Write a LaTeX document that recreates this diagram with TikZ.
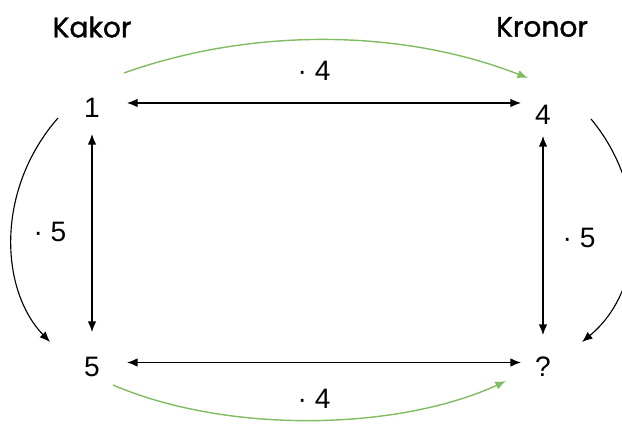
\documentclass[tikz,border=0pt]{standalone}
\usepackage{fontspec}
\setmainfont{Liberation Sans}
\newfontfamily\headfont{Poppins}[FakeBold=1.2]
\usetikzlibrary{arrows.meta,calc}
\definecolor{grn}{RGB}{128,188,98}
\tikzset{
  num/.style={inner sep=0pt,font=\fontsize{20}{24}\selectfont},
  head/.style={inner sep=0pt,font=\headfont\fontsize{20}{24}\selectfont},
  lbl/.style={inner sep=0pt,font=\fontsize{20}{24}\selectfont},
  dbl/.style={{Latex[length=7.5pt,width=6pt]}-{Latex[length=7.5pt,width=6pt]},line width=0.8pt},
  blk/.style={-{Latex[length=7.5pt,width=6pt]},line width=0.8pt},
  grnarr/.style={-{Latex[length=7.5pt,width=6pt]},line width=1pt,draw=grn}
}
\begin{document}
\begin{tikzpicture}[x=0.025cm,y=-0.025cm]
\useasboundingbox (0,0) rectangle (622,425);
\clip (0,0) rectangle (622,425);
\node[head] (kakor) at (92,27) {Kakor};
\node[head] (kronor) at (542,27) {Kronor};
\node[num] (n1) at (92,108) {1};
\node[num] (n4) at (543,115) {4};
\node[num] (n5) at (92,367) {5};
\node[num] (nq) at (543,367) {?};
\node[lbl] (ltop) at (314,71) {· 4};
\node[lbl] (lbot) at (314,399) {· 4};
\node[lbl] (lleft) at (50,232) {· 5};
\node[lbl] (lright) at (579,238) {· 5};
% straight double arrows
\draw[dbl] ($(n1)+(35,-5)$) -- ($(n4)+(-22,-12)$);
\draw[dbl] ($(n5)+(35,-4.5)$) -- ($(nq)+(-22,-4.5)$);
\draw[dbl] ($(n1)+(0,26)$) -- ($(n5)+(0,-35)$);
\draw[dbl] ($(n4)+(0,21)$) -- ($(nq)+(0,-32)$);
% green curves
\draw[grnarr] ($(n1)+(32,-35)$) .. controls (250,28) and (400,28) .. ($(n4)+(-15,-37)$);
\draw[grnarr] ($(n5)+(21,18)$) .. controls (230,435) and (400,430) .. ($(nq)+(-37,14)$);
% black side curves
\draw[blk] ($(n1)+(-34,10)$) .. controls (-5,190) and (0,290) .. ($(n5)+(-42,-25)$);
\draw[blk] ($(n4)+(48,4)$) .. controls (650,190) and (645,290) .. ($(nq)+(39,-25)$);
\end{tikzpicture}
\end{document}
